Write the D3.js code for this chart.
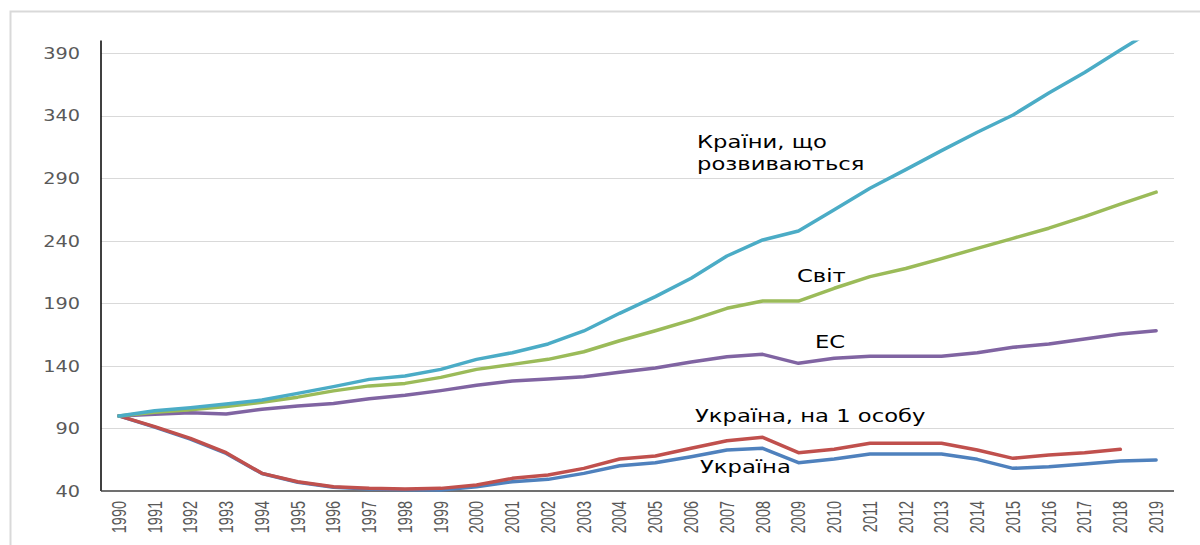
<!DOCTYPE html>
<html><head><meta charset="utf-8">
<script src="https://cdn.jsdelivr.net/npm/d3@7"></script>
<style>
body{margin:0;background:#fff;}
svg{display:block;}
</style></head>
<body><svg id="c" width="1200" height="545"></svg>
<script>
const years = ["1990","1991","1992","1993","1994","1995","1996","1997","1998","1999","2000","2001","2002","2003","2004","2005","2006","2007","2008","2009","2010","2011","2012","2013","2014","2015","2016","2017","2018","2019"];
const yTicks = [40,90,140,190,240,290,340,390];
const ukraine = [100,91,81.5,70,54,47,43,41.5,41,40.8,43.4,47.4,49.3,54.1,60.2,62.6,67.4,72.8,74.1,62.6,65.6,69.6,69.6,69.6,65.3,58.1,59.4,61.6,64,64.8];
const ukrainePerCapita = [100,91.4,82.1,70.6,54.1,47.4,43.4,42.1,41.6,42.1,44.8,50.1,52.8,58.1,65.6,68,74.1,80.2,82.9,70.6,73.3,78.1,78.1,78.1,72.8,66.1,68.8,70.6,73.3,null];
const eu = [100,101.3,102.6,101.5,105.3,108,110,113.8,116.5,120.2,124.5,127.9,129.5,131.3,134.9,138.3,143.1,147.3,149.2,142,146,147.6,147.6,147.6,150.5,154.8,157.5,161.5,165.5,168.1];
const world = [100,103,105,107.5,111,115,120,124,126,130.8,137.2,141.2,145.2,151.3,160.1,168.1,176.6,186,191.8,191.8,202,211.3,217.8,225.7,233.9,241.9,250,259.2,269.2,278.8];
const developing = [100,104.2,106.6,109.5,112.7,118,123.4,129.2,131.9,137.2,145.2,150.5,157.5,167.9,182,195.3,210,227.8,240.6,247.8,264.8,281.9,296.8,312,326.7,340.5,358,374.5,392.4,410];
const seriesNames = ["Україна","Україна, на 1 особу","ЕС","Світ","Країни, що розвиваються"];
const seriesColors = ["#4F81BD","#C0504D","#8064A2","#9BBB59","#4BACC6"];

const svg = d3.select("#c");
const L = 101, R = 1174, T = 40.5, B = 491;

// outer frame
svg.append("rect").attr("x",10.5).attr("y",11.5).attr("width",1300).attr("height",600)
  .attr("fill","none").attr("stroke","#d9d9d9").attr("stroke-width",2);

const x = d3.scaleBand().domain(years).range([L,R]);
const y = d3.scaleLinear().domain([40,400]).range([B,T]);

// gridlines
svg.append("g").selectAll("line").data(yTicks.filter(d=>d>40)).join("line")
  .attr("x1",L).attr("x2",R).attr("y1",d=>Math.round(y(d))+0.5).attr("y2",d=>Math.round(y(d))+0.5)
  .attr("stroke","#d9d9d9").attr("stroke-width",1);

// y axis
const ya = svg.append("g").attr("transform",`translate(${L},0)`)
  .call(d3.axisLeft(y).tickValues(yTicks).tickSize(0));
ya.select(".domain").remove();
ya.selectAll("text")
  .attr("x",0).attr("transform","translate(-21,0) scale(1.17,1)")
  .attr("font-family","DejaVu Sans").attr("font-size",16.5).attr("fill","#595959");
svg.append("line").attr("x1",L).attr("x2",L).attr("y1",T).attr("y2",B).attr("stroke","#000").attr("stroke-width",1.5);

// x axis
const xa = svg.append("g").attr("transform",`translate(0,${B})`)
  .call(d3.axisBottom(x).tickSize(0).tickPadding(0));
xa.select(".domain").remove();
xa.selectAll("text")
  .attr("transform","rotate(-90) scale(1,1.35)")
  .attr("x",-10).attr("y",0).attr("dy","0.35em")
  .attr("text-anchor","end")
  .attr("font-family","Liberation Sans")
  .attr("font-size",14.5).attr("fill","#595959");
svg.append("line").attr("x1",L).attr("x2",R).attr("y1",B).attr("y2",B).attr("stroke","#404040").attr("stroke-width",1.5);

// clip
svg.append("clipPath").attr("id","clip").append("rect").attr("x",L).attr("y",T).attr("width",R-L).attr("height",B-T+5);

const all = [ukraine, ukrainePerCapita, eu, world, developing];
const line = d3.line().defined(d=>d!=null).x((d,i)=>x(years[i])+x.bandwidth()/2).y(d=>y(d));
svg.append("g").attr("clip-path","url(#clip)").selectAll("path").data(all).join("path")
  .attr("d",line).attr("fill","none").attr("stroke",(d,i)=>seriesColors[i])
  .attr("stroke-width",3.5).attr("stroke-linejoin","round").attr("stroke-linecap","round");

// labels
const lab = (t,xx,yy)=>svg.append("text").attr("transform",`translate(${xx},${yy}) scale(1.26,1)`).text(t)
  .attr("font-family","DejaVu Sans").attr("font-size",18).attr("fill","#000");
lab("Країни, що",697,148);
lab("розвиваються",697,170);
lab(seriesNames[3],797,282);
lab(seriesNames[2],815,348);
lab(seriesNames[1],695,422);
lab(seriesNames[0],700,473);
</script></body></html>
